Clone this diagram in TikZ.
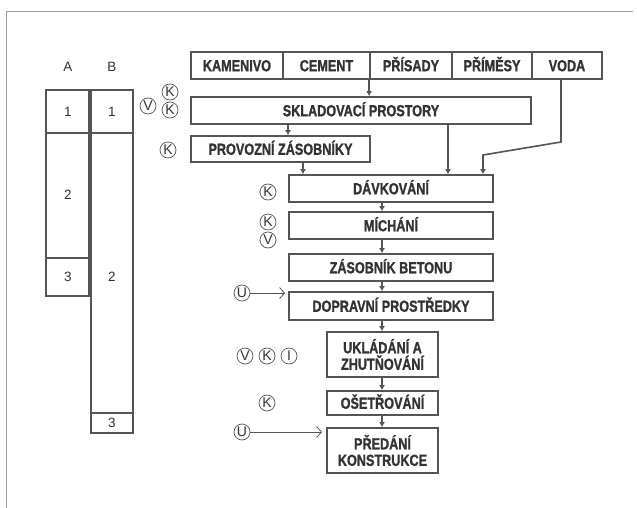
\documentclass[tikz,border=0pt]{standalone}
\usepackage{fontspec}
\setmainfont{Liberation Sans}
\newfontfamily\boxfont[FakeStretch=0.79, FakeBold=1.2]{Liberation Sans}
\usetikzlibrary{arrows.meta}
\definecolor{linegray}{HTML}{555555}
\definecolor{inkgray}{HTML}{333333}
\definecolor{framegray}{HTML}{A0A0A0}
\tikzset{
  stage/.style={draw=linegray, line width=1.8pt, inner sep=0pt, align=center,
    text=inkgray, font=\boxfont\bfseries\fontsize{16}{16.5}\selectfont},
  rawbox/.style={stage, minimum height=27pt, text height=11.5pt, text depth=0pt},
  ctrl/.style={circle, draw=linegray, fill=white, line width=0.7pt, minimum size=16pt,
    inner sep=0pt, text=inkgray, font=\fontsize{14}{14}\selectfont},
  feed/.style={draw=linegray, line width=1.6pt, -{Latex[length=5pt,width=6pt]}},
  inflow/.style={draw=linegray, line width=0.8pt, -{Straight Barb[length=5pt,width=11pt]}},
  phase/.style={draw=linegray, line width=1.6pt},
  plabel/.style={text=inkgray, font=\fontsize{13.5}{13.5}\selectfont},
}
\begin{document}
\begin{tikzpicture}[x=1pt,y=-1pt]
  \useasboundingbox (0,0) rectangle (637,508);
  \draw[framegray, line width=0.7pt] (6,508) -- (6,11) -- (633,11);

  % phases A and B
  \node[plabel] (colA) at (68,67) {A};
  \node[plabel] (colB) at (112,67) {B};
  \draw[phase] (46,90) rectangle (89,296);
  \draw[phase] (46,133) -- (89,133);
  \draw[phase] (46,258) -- (89,258);
  \draw[phase, line width=1.1pt] (91,90) rectangle (133,433);
  \draw[phase, line width=1.1pt] (91,133) -- (133,133);
  \draw[phase, line width=1.1pt] (91,413) -- (133,413);
  \node[plabel] (a1) at (68,112) {1};
  \node[plabel] (a2) at (68,195) {2};
  \node[plabel] (a3) at (68,277) {3};
  \node[plabel] (b1) at (112,112) {1};
  \node[plabel] (b2) at (112,277) {2};
  \node[plabel] (b3) at (112,423) {3};

  % raw materials
  \node[rawbox, minimum width=92pt] (kamenivo) at (237,65.5) {KAMENIVO};
  \node[rawbox, minimum width=87pt] (cement) at (326.5,65.5) {CEMENT};
  \node[rawbox, minimum width=82pt] (prisady) at (411,65.5) {PŘÍSADY};
  \node[rawbox, minimum width=80pt] (primesy) at (492,65.5) {PŘÍMĚSY};
  \node[rawbox, minimum width=70pt] (voda) at (567,65.5) {VODA};

  % process chain
  \node[rawbox, minimum width=340pt] (sklad) at (361,110.5) {SKLADOVACÍ PROSTORY};
  \node[rawbox, minimum width=179pt, minimum height=26pt] (provoz) at (280.5,149) {PROVOZNÍ ZÁSOBNÍKY};
  \node[rawbox, minimum width=204pt] (davk) at (391,188.5) {DÁVKOVÁNÍ};
  \node[rawbox, minimum width=204pt] (mich) at (391,225.5) {MÍCHÁNÍ};
  \node[rawbox, minimum width=204pt] (zasob) at (391,267.5) {ZÁSOBNÍK BETONU};
  \node[rawbox, minimum width=204pt, minimum height=28pt] (doprav) at (391,306) {DOPRAVNÍ PROSTŘEDKY};
  \node[stage, minimum width=111pt, minimum height=45pt] (uklad) at (382.5,354.5) {UKLÁDÁNÍ A\\ZHUTŇOVÁNÍ};
  \node[rawbox, minimum width=111pt, minimum height=24pt] (oset) at (382.5,403) {OŠETŘOVÁNÍ};
  \node[stage, minimum width=111pt, minimum height=45pt] (predani) at (382.5,450.5) {PŘEDÁNÍ\\KONSTRUKCE};

  \draw[feed] (prisady.south west) -- (prisady.south west |- sklad.north);
  \draw[feed] (sklad.south -| 288,0) -- (provoz.north -| 288,0);
  \draw[feed] (provoz.south -| 303,0) -- (davk.north -| 303,0);
  \draw[feed] (sklad.south -| 448,0) -- (davk.north -| 448,0);
  \draw[feed] (voda.south -| 561,0) -- (561,142) -- (483,155) -- (davk.north -| 483,0);
  \foreach \a/\b in {davk/mich, mich/zasob, zasob/doprav, doprav/uklad, uklad/oset, oset/predani}
    \draw[feed] (\a.south -| 382,0) -- (\b.north -| 382,0);

  % controls
  \node[ctrl] (v1) at (148,106) {V};
  \node[ctrl] (k1) at (170,92) {K};
  \node[ctrl] (k2) at (170,110) {K};
  \node[ctrl] (k3) at (168,150) {K};
  \node[ctrl] (k4) at (268,192) {K};
  \node[ctrl] (k5) at (268,222) {K};
  \node[ctrl] (v2) at (268,240) {V};
  \node[ctrl] (u1) at (242,293) {U};
  \node[ctrl] (v3) at (245,356) {V};
  \node[ctrl] (k6) at (267,356) {K};
  \node[ctrl] (i1) at (289,356) {I};
  \node[ctrl] (k7) at (267,403) {K};
  \node[ctrl] (u2) at (242,432) {U};
  \draw[inflow, shorten >=3pt] (u1.east) -- (u1.east -| doprav.west);
  \draw[inflow, shorten >=4pt] (u2.east) -- (u2.east -| predani.west);
\end{tikzpicture}
\end{document}
